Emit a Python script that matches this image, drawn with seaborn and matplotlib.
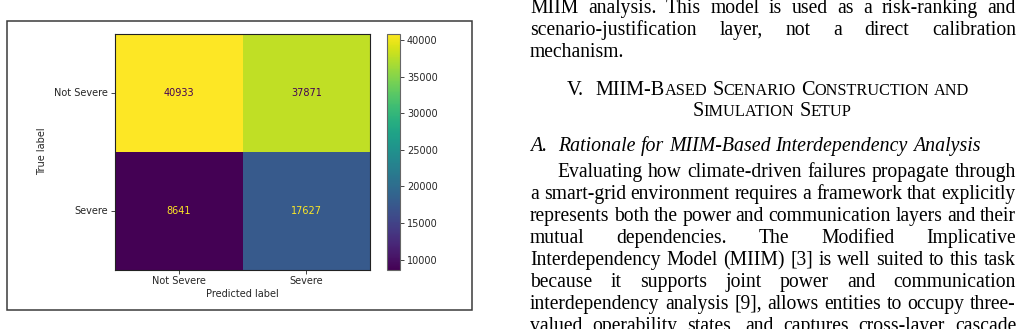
import matplotlib
matplotlib.use("Agg")
import matplotlib.pyplot as plt
from matplotlib.patches import Rectangle
import pandas as pd
import seaborn as sns

W, H, DPI = 1023, 329, 100

# confusion matrix data
class_labels = ["Not Severe", "Severe"]
conf_counts = [[40933, 37871],
               [8641, 17627]]
cbar_ticks = [10000, 15000, 20000, 25000, 30000, 35000, 40000]

# page text on the right column
para_top = [
    "MIIM analysis. This model is used as a risk-ranking and",
    "scenario-justification layer, not a direct calibration",
    "mechanism.",
]
heading_num = "V."
heading_lines = [
    "MIIM-Based Scenario Construction and",
    "Simulation Setup",
]
sub_num = "A."
sub_title = "Rationale for MIIM-Based Interdependency Analysis"
para_body = [
    "Evaluating how climate-driven failures propagate through",
    "a smart-grid environment requires a framework that explicitly",
    "represents both the power and communication layers and their",
    "mutual dependencies. The Modified Implicative",
    "Interdependency Model (MIIM) [3] is well suited to this task",
    "because it supports joint power and communication",
    "interdependency analysis [9], allows entities to occupy three-",
    "valued operability states, and captures cross-layer cascade",
]


def fx(px):
    return px / W


def fy(py):
    return 1 - py / H


fig = plt.figure(figsize=(W / DPI, H / DPI), dpi=DPI)
fig.patch.set_facecolor("white")

# frame around the embedded figure
fig.patches.append(Rectangle((fx(7), fy(310)), fx(472) - fx(7), fy(20.5) - fy(310),
                             transform=fig.transFigure, fill=False,
                             edgecolor="#3a3a3a", linewidth=1.1))

ax = fig.add_axes([fx(115), fy(269.5), fx(370) - fx(115), fy(33.5) - fy(269.5)])
cax = fig.add_axes([fx(386.5), fy(269.5), fx(400) - fx(386.5), fy(33.5) - fy(269.5)])

df = pd.DataFrame(conf_counts, index=class_labels, columns=class_labels)
cmap = plt.get_cmap("viridis")
sns.heatmap(df, ax=ax, cbar_ax=cax, cmap=cmap, annot=True, fmt="d",
            annot_kws={"fontsize": 7})

vals = df.values
thresh = (vals.max() + vals.min()) / 2
for t in ax.texts:
    v = int(t.get_text())
    t.set_color(cmap(1.0) if v < thresh else cmap(0.0))

for s in ax.spines.values():
    s.set_visible(True)
    s.set_linewidth(0.8)
    s.set_color("#222222")
ax.tick_params(length=3, width=0.6, labelsize=7, pad=2, colors="#262626")
ax.set_yticklabels(class_labels, rotation=0, va="center")
ax.set_xticklabels(class_labels, rotation=0)
ax.set_xlabel("Predicted label", fontsize=7, color="#262626", labelpad=2)
ax.set_ylabel("True label", fontsize=7, color="#262626", labelpad=5)

cbar = ax.collections[0].colorbar
cbar.set_ticks(cbar_ticks)
cbar.outline.set_linewidth(0.8)
cbar.outline.set_edgecolor("#666666")
cax.tick_params(labelsize=7, length=3, width=0.6, pad=2, colors="#262626")

# ---- right column text ----
SERIF = "Liberation Serif"
PT_BODY = 14.1
PT_HEAD = 14.6
PT_SUB = 14.3
SC = 0.8
COL_L, COL_R = 530, 1016
LEAD = 22
renderer = fig.canvas.get_renderer()


def segs_plain(word, size):
    return [(word, size)]


def segs_smallcaps(word, size):
    out = []
    for ch in word:
        sz = size * SC if ch.islower() else size
        c = ch.upper()
        if out and out[-1][1] == sz:
            out[-1] = (out[-1][0] + c, sz)
        else:
            out.append((c, sz))
    return out


def make_words(line, size, conv=segs_plain, style="normal"):
    words = []
    for w in line.split():
        segs = []
        for s, sz in conv(w, size):
            t = fig.text(0, 0, s, fontsize=sz, family=SERIF, style=style,
                         va="baseline", ha="left", color="black")
            segs.append((t, t.get_window_extent(renderer=renderer).width))
        words.append(segs)
    return words


def space_px(size, style="normal"):
    t = fig.text(0, 0, "a a", fontsize=size, family=SERIF, style=style)
    t2 = fig.text(0, 0, "aa", fontsize=size, family=SERIF, style=style)
    d = (t.get_window_extent(renderer=renderer).width
         - t2.get_window_extent(renderer=renderer).width)
    t.remove()
    t2.remove()
    return d


def place(words, baseline, x0, gap):
    # whole-pixel baseline keeps words of one line level
    x = x0
    for segs in words:
        for t, w in segs:
            t.set_position((fx(x), fy(round(baseline))))
            x += w
        x += gap
    return x - gap


def line_width(words, gap):
    return sum(w for segs in words for _, w in segs) + gap * (len(words) - 1)


def justified(line, baseline, left, right, last=False):
    words = make_words(line, PT_BODY)
    if last or len(words) < 2:
        gap = space_px(PT_BODY)
    else:
        gap = (right - left - line_width(words, 0)) / (len(words) - 1)
    place(words, baseline, left, gap)


# top paragraph (continued from previous page part)
for i, line in enumerate(para_top):
    justified(line, 13 + i * LEAD, COL_L, COL_R, last=(i == len(para_top) - 1))

# section heading in small caps, centred
center = 768
hsp = space_px(PT_HEAD)
for i, line in enumerate(heading_lines):
    words = make_words(line, PT_HEAD, segs_smallcaps)
    if i == 0:
        num = make_words(heading_num, PT_HEAD)
        numw = line_width(num, 0)
        tot = numw + 2.2 * hsp + line_width(words, hsp)
        x0 = center - tot / 2
        place(num, 95, x0, hsp)
        place(words, 95, x0 + numw + 2.2 * hsp, hsp)
    else:
        tot = line_width(words, hsp)
        place(words, 116, center + 4 - tot / 2, hsp)

# subsection title in italics
ssp = space_px(PT_SUB, "italic")
place(make_words(sub_num, PT_SUB, style="italic"), 151, COL_L, ssp)
place(make_words(sub_title, PT_SUB, style="italic"), 151, 558, ssp)

# body paragraph
for i, line in enumerate(para_body):
    left = 557 if i == 0 else COL_L
    justified(line, 177 + i * LEAD, left, COL_R)

fig.savefig("out.png", dpi=DPI, facecolor="white")
plt.close(fig)
